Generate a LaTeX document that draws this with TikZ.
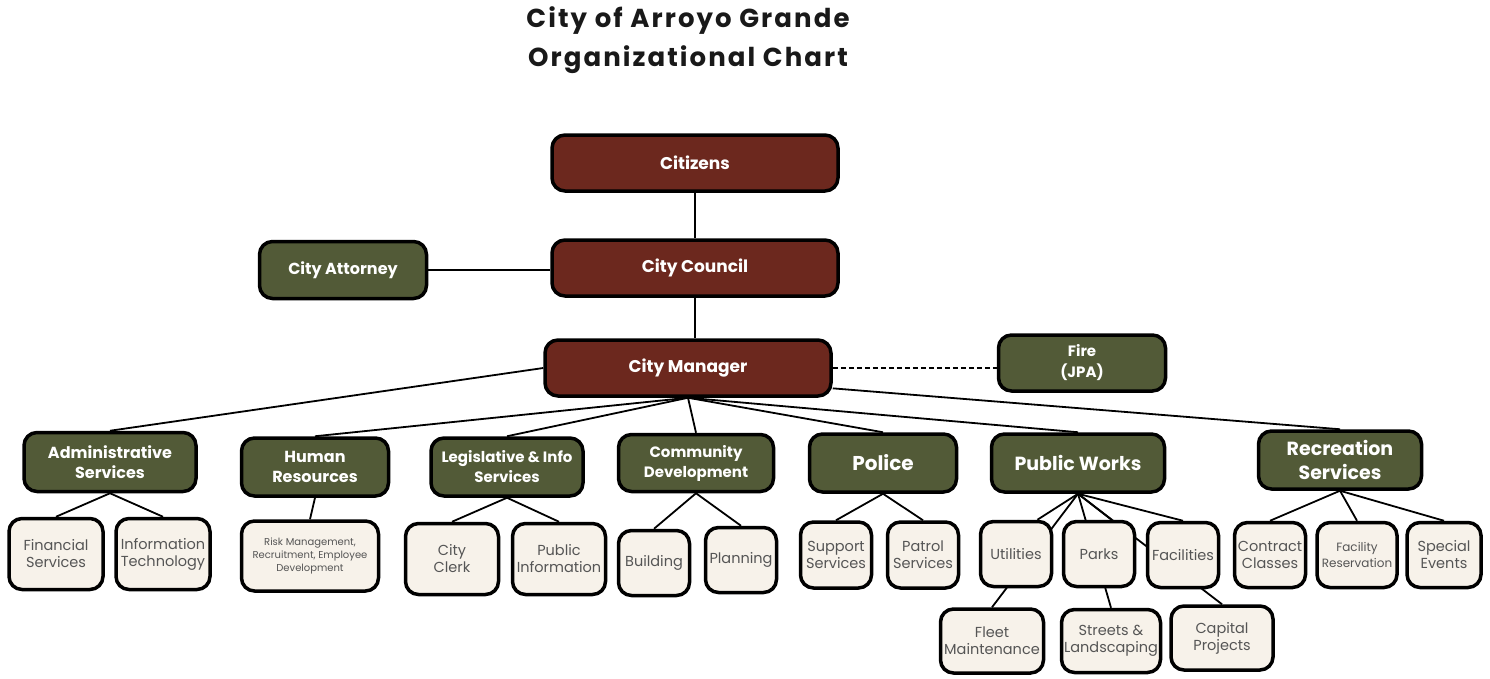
\documentclass[tikz,border=0pt]{standalone}
\usepackage{fontspec}
\setmainfont{Poppins}
\pgfdeclarelayer{bg}
\pgfsetlayers{bg,main}
\definecolor{cmred}{HTML}{6C281E}
\definecolor{cmgreen}{HTML}{525A37}
\definecolor{cream}{HTML}{F7F2EA}
\definecolor{txtgray}{HTML}{555555}
\begin{document}
\begin{tikzpicture}[x=1pt,y=-1pt,
  basebox/.style={draw=black, line width=3.5pt, rounded corners=13pt, inner sep=0pt, align=center},
  redbox/.style={basebox, fill=cmred, text=white, font=\bfseries\fontsize{17}{21}\selectfont, minimum width=286pt, minimum height=56pt},
  grbox/.style={basebox, fill=cmgreen, text=white, font=\bfseries\fontsize{16}{20}\selectfont},
  ltbox/.style={basebox, fill=cream, text=txtgray, font=\fontsize{14.5}{17}\selectfont, minimum width=71pt, minimum height=65pt},
  conn/.style={draw=black, line width=1.8pt},
  titlestyle/.style={font=\fontsize{26}{39}\selectfont\bfseries\addfontfeatures{LetterSpace=8}, text=black!90, align=center, inner sep=0pt}]
\useasboundingbox (0,0) rectangle (1490,678);

\node[titlestyle] (title) at (688,40) {City of Arroyo Grande\\Organizational Chart};

% top levels
\node[redbox] (cit) at (695,163) {Citizens};
\node[redbox] (council) at (695,268) {City Council};
\node[grbox, minimum width=167pt, minimum height=57pt] (att) at (343,270) {City Attorney};
\node[redbox] (cm) at (688,368) {City Manager};
\node[grbox, minimum width=167pt, minimum height=56pt, font=\bfseries\fontsize{15}{21}\selectfont] (fire) at (1082,363) {Fire\\(JPA)};

% level 2
\node[grbox, minimum width=172pt, minimum height=59pt] (admin) at (110,462) {Administrative\\Services};
\node[grbox, minimum width=147pt, minimum height=58pt] (hr) at (315,467) {Human\\Resources};
\node[grbox, minimum width=152pt, minimum height=58pt, font=\bfseries\fontsize{15}{20}\selectfont] (leg) at (507,467) {Legislative \& Info\\Services};
\node[grbox, minimum width=155pt, minimum height=57pt, font=\bfseries\fontsize{15}{20}\selectfont] (cd) at (696,463) {Community\\Development};
\node[grbox, minimum width=147pt, minimum height=58pt, font=\bfseries\fontsize{20}{24}\selectfont] (police) at (883,463) {Police};
\node[grbox, minimum width=173pt, minimum height=58pt, font=\bfseries\fontsize{19}{24}\selectfont] (pw) at (1078,463) {Public Works};
\node[grbox, minimum width=163pt, minimum height=58pt, font=\bfseries\fontsize{19}{24}\selectfont] (rec) at (1340,460) {Recreation\\Services};

% level 3
\node[ltbox, minimum width=94pt, minimum height=71pt] (fin) at (56,554) {Financial\\Services};
\node[ltbox, minimum width=94pt, minimum height=71pt] (it) at (163,554) {Information\\Technology};
\node[ltbox, minimum width=137pt, minimum height=70pt, font=\fontsize{10}{13}\selectfont] (risk) at (310,556) {Risk Management,\\Recruitment, Employee\\Development};
\node[ltbox, minimum width=93pt, minimum height=71pt] (clerk) at (452,559) {City\\Clerk};
\node[ltbox, minimum width=93pt, minimum height=71pt] (pinfo) at (559,559) {Public\\Information};
\node[ltbox, minimum width=71pt, minimum height=65pt] (bld) at (654,563) {Building};
\node[ltbox, minimum width=71pt, minimum height=65pt] (plan) at (741,560) {Planning};
\node[ltbox, minimum width=71pt, minimum height=66pt] (sup) at (836,555) {Support\\Services};
\node[ltbox, minimum width=71pt, minimum height=66pt] (pat) at (923,555) {Patrol\\Services};
\node[ltbox] (util) at (1016,554) {Utilities};
\node[ltbox] (parks) at (1099,554) {Parks};
\node[ltbox] (fac) at (1183,555) {Facilities};
\node[ltbox] (cc) at (1270,555) {Contract\\Classes};
\node[ltbox, minimum width=80pt, font=\fontsize{12}{16}\selectfont] (fres) at (1357,555) {Facility\\Reservation};
\node[ltbox, minimum width=74pt] (se) at (1444,555) {Special\\Events};
\node[ltbox, minimum width=103pt, minimum height=64pt] (fleet) at (992,641) {Fleet\\Maintenance};
\node[ltbox, minimum width=99pt, minimum height=63pt] (streets) at (1111,641) {Streets \&\\Landscaping};
\node[ltbox, minimum width=102pt, minimum height=64pt] (cap) at (1222,638) {Capital\\Projects};

\begin{pgfonlayer}{bg}
  \fill[white] (0,0) rectangle (1490,678);
  \draw[conn] (cit.south -| council.north) -- (council.north);
  \draw[conn] (att.east) -- (att.east -| council.west);
  \draw[conn] (council.south) -- (council.south |- cm.north);
  \draw[conn, line width=2pt, dash pattern=on 5pt off 3pt] (cm.east) -- (fire.west |- cm.east);
  \draw[conn] (cm.west) -- (admin.north);
  \draw[conn] (cm.-8) -- (rec.north);
  \foreach \n in {hr,leg,cd,police,pw} \draw[conn] (cm.south) -- (\n.north);
  \draw[conn] (admin.south) -- (fin.north);
  \draw[conn] (admin.south) -- (it.north);
  \draw[conn] (hr.south) -- (risk.north);
  \draw[conn] (leg.south) -- (clerk.north);
  \draw[conn] (leg.south) -- (pinfo.north);
  \draw[conn] (cd.south) -- (bld.north);
  \draw[conn] (cd.south) -- (plan.north);
  \draw[conn] (police.south) -- (sup.north);
  \draw[conn] (police.south) -- (pat.north);
  \draw[conn] (pw.south) -- (util.58);
  \draw[conn] (pw.south) -- (parks.70);
  \draw[conn] (pw.south) -- (fac.north);
  \draw[conn] (pw.south) -- (fleet.north);
  \draw[conn] (pw.south) -- (streets.north);
  \draw[conn] (pw.south) -- (cap.north);
  \draw[conn] (rec.south) -- (cc.north);
  \draw[conn] (rec.south) -- (fres.north);
  \draw[conn] (rec.south) -- (se.north);
\end{pgfonlayer}
\end{tikzpicture}
\end{document}
